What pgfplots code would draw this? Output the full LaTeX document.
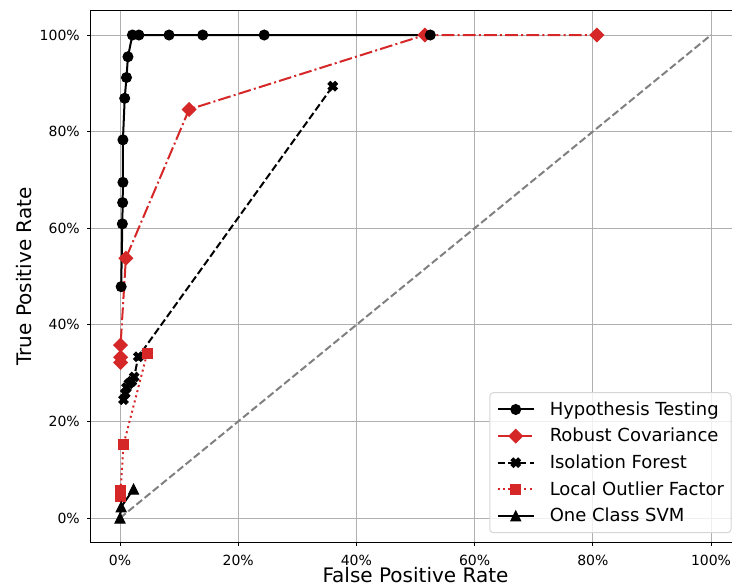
\documentclass[border=0pt]{standalone}
\usepackage{fontspec}
\setmainfont{DejaVu Sans}
\usepackage{pgfplots}
\pgfplotsset{compat=1.18}

\definecolor{tabred}{HTML}{D62728}
\definecolor{gridgray}{HTML}{B0B0B0}
\definecolor{legframe}{HTML}{D6D6D6}

% filled "X" marker (a plus rotated by 45 degrees)
\pgfdeclareplotmark{Xfill}{%
  \pgfpathmoveto{\pgfqpoint{0.5\pgfplotmarksize}{-\pgfplotmarksize}}%
  \pgfpathlineto{\pgfqpoint{\pgfplotmarksize}{-0.5\pgfplotmarksize}}%
  \pgfpathlineto{\pgfqpoint{0.5\pgfplotmarksize}{0pt}}%
  \pgfpathlineto{\pgfqpoint{\pgfplotmarksize}{0.5\pgfplotmarksize}}%
  \pgfpathlineto{\pgfqpoint{0.5\pgfplotmarksize}{\pgfplotmarksize}}%
  \pgfpathlineto{\pgfqpoint{0pt}{0.5\pgfplotmarksize}}%
  \pgfpathlineto{\pgfqpoint{-0.5\pgfplotmarksize}{\pgfplotmarksize}}%
  \pgfpathlineto{\pgfqpoint{-\pgfplotmarksize}{0.5\pgfplotmarksize}}%
  \pgfpathlineto{\pgfqpoint{-0.5\pgfplotmarksize}{0pt}}%
  \pgfpathlineto{\pgfqpoint{-\pgfplotmarksize}{-0.5\pgfplotmarksize}}%
  \pgfpathlineto{\pgfqpoint{-0.5\pgfplotmarksize}{-\pgfplotmarksize}}%
  \pgfpathlineto{\pgfqpoint{0pt}{-0.5\pgfplotmarksize}}%
  \pgfpathclose
  \pgfusepathqfillstroke
}
% upward triangle as wide as it is tall
\pgfdeclareplotmark{tri}{%
  \pgfpathmoveto{\pgfqpoint{0pt}{\pgfplotmarksize}}%
  \pgfpathlineto{\pgfqpoint{-\pgfplotmarksize}{-\pgfplotmarksize}}%
  \pgfpathlineto{\pgfqpoint{\pgfplotmarksize}{-\pgfplotmarksize}}%
  \pgfpathclose
  \pgfusepathqfillstroke
}
% diamond: a square standing on its corner
\pgfdeclareplotmark{dmd}{%
  \pgfpathmoveto{\pgfqpoint{0pt}{\pgfplotmarksize}}%
  \pgfpathlineto{\pgfqpoint{-\pgfplotmarksize}{0pt}}%
  \pgfpathlineto{\pgfqpoint{0pt}{-\pgfplotmarksize}}%
  \pgfpathlineto{\pgfqpoint{\pgfplotmarksize}{0pt}}%
  \pgfpathclose
  \pgfusepathqfillstroke
}

\pgfplotsset{
  hypo/.style={black, line width=2pt, solid, mark=*, mark size=5pt,
    mark options={solid, line width=1pt}},
  robust/.style={tabred, line width=2pt, dash pattern=on 12.8pt off 3.2pt on 2pt off 3.2pt,
    mark=dmd, mark size=6.8pt, mark options={solid, line width=1pt}},
  iforest/.style={black, line width=2pt, dash pattern=on 7.4pt off 3.2pt,
    mark=Xfill, mark size=4.7pt, mark options={solid, line width=1pt}},
  lof/.style={tabred, line width=2pt, dash pattern=on 2pt off 3.3pt,
    mark=square*, mark size=5pt, mark options={solid, line width=1pt}},
  ocsvm/.style={black, line width=2pt, solid, mark=tri, mark size=5pt,
    mark options={solid, line width=1pt}},
}

\begin{document}
\begin{tikzpicture}
\begin{axis}[
  scale only axis,
  width=650.1pt, height=531.3pt,
  xmin=-5, xmax=105, ymin=-5, ymax=105,
  xtick={0,20,40,60,80,100}, ytick={0,20,40,60,80,100},
  xticklabels={0\%,20\%,40\%,60\%,80\%,100\%},
  yticklabels={0\%,20\%,40\%,60\%,80\%,100\%},
  xtick pos=bottom, ytick pos=left,
  tick align=outside, major tick length=3.5pt,
  tick style={black, line width=0.8pt},
  axis line style={black, line width=0.8pt},
  grid=major, major grid style={gridgray, line width=0.8pt},
  ticklabel style={font=\fontsize{14}{16}\selectfont, inner sep=0pt},
  xticklabel style={anchor=base, yshift=-19.5pt},
  yticklabel style={anchor=base east, xshift=-7pt, yshift=-5.1pt},
  every axis x label/.style={at={([yshift=-40.5pt]rel axis cs:0.5,0)}, anchor=base,
    font=\fontsize{20}{24}\selectfont},
  every axis y label/.style={at={([xshift=-59pt]rel axis cs:0,0.5)}, rotate=90, anchor=base,
    font=\fontsize{20}{24}\selectfont},
  xlabel={False Positive Rate},
  ylabel={True Positive Rate},
  legend cell align=left,
  legend image code/.code={%
    \draw[mark repeat=2, mark phase=2, fill opacity=1, #1]
      plot coordinates {(0pt,0pt) (18pt,0pt) (36pt,0pt)};},
  legend style={
    at={(1,0)}, anchor=south east, xshift=-9pt, yshift=9pt,
    draw=legframe, line width=1pt, fill=white, fill opacity=0.8, text opacity=1,
    rounded corners=3.6pt, inner xsep=7pt, inner ysep=8pt,
    font=\fontsize{18}{21}\selectfont,
    row sep=9pt, column sep=15pt,
    nodes={inner sep=0pt, text height=14.6pt, text depth=3pt},
  },
]
% legend entries, listed in this order
\addlegendimage{hypo}
\addlegendentry{Hypothesis Testing}
\addlegendimage{robust}
\addlegendentry{Robust Covariance}
\addlegendimage{iforest}
\addlegendentry{Isolation Forest}
\addlegendimage{lof}
\addlegendentry{Local Outlier Factor}
\addlegendimage{ocsvm}
\addlegendentry{One Class SVM}

% chance line
\addplot[forget plot, gray, line width=2pt, dash pattern=on 7.4pt off 3.2pt]
  coordinates {(0,0) (100,100)};

% Robust Covariance
\addplot[forget plot, robust] coordinates {
  (0.1,32.2) (0.1,33.3) (0.1,35.8) (1.0,53.8) (11.7,84.6) (51.6,100) (80.7,100)
};

% Hypothesis Testing
\addplot[forget plot, hypo] coordinates {
  (0.2,47.9) (0.4,60.9) (0.45,65.3) (0.5,69.5) (0.5,78.3) (0.8,86.9)
  (1.1,91.2) (1.35,95.5) (2.1,100) (3.2,100) (8.3,100) (14.0,100)
  (24.4,100) (52.5,100)
};

% Isolation Forest
\addplot[forget plot, iforest] coordinates {
  (0.6,24.5) (0.9,25.8) (1.1,27.0) (1.5,27.8) (2.0,28.3) (2.4,29.2)
  (3.1,33.4) (36.0,89.4)
};

% Local Outlier Factor
\addplot[forget plot, lof] coordinates {
  (0.1,4.5) (0.1,5.6) (0.6,15.2) (4.6,34.1)
};

% One Class SVM
\addplot[forget plot, ocsvm] coordinates {
  (0,0) (0.2,2.3) (2.3,6.0)
};

\coordinate (bbsw) at (axis cs:-20.30,-14.08);
\coordinate (bbne) at (axis cs:103.55,107.25);
\end{axis}
\pgfresetboundingbox
\useasboundingbox (bbsw) rectangle (bbne);
\end{tikzpicture}
\end{document}
